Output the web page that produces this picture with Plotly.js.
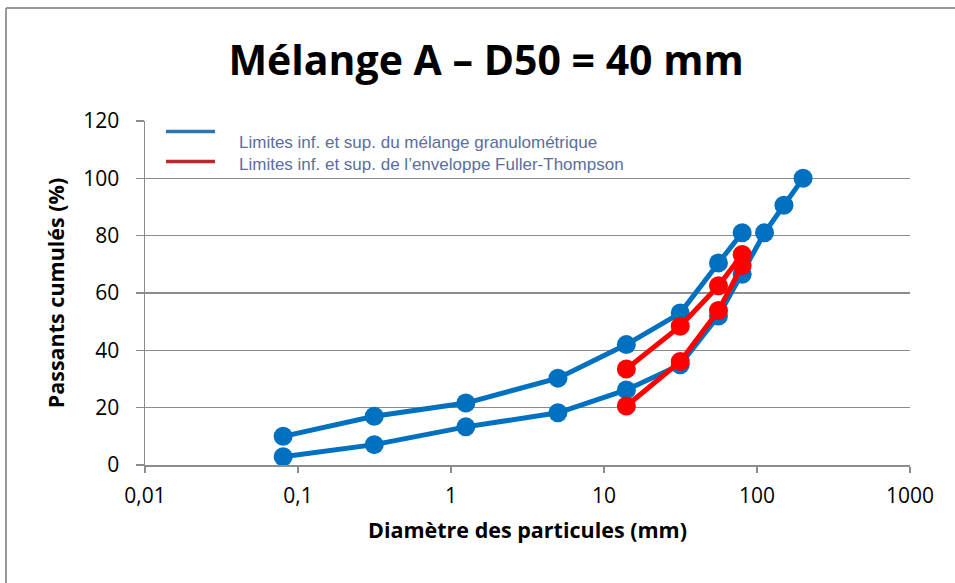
<!DOCTYPE html>
<html>
<head>
<meta charset="utf-8">
<script src="https://cdn.plot.ly/plotly-3.0.1.min.js"></script>
<style>html,body{margin:0;padding:0;background:#fff;}#chart{width:955px;height:583px;}</style>
</head>
<body>
<div id="chart"></div>
<script>
// Sieve sizes (mm)
const sizesBlueUpper = [0.08, 0.315, 1.25, 5, 14, 31.5, 56, 80];
const blueUpper = [10, 17, 21.6, 30.3, 42, 53, 70.5, 81];
const sizesBlueLower = [0.08, 0.315, 1.25, 5, 14, 31.5, 56, 80, 112, 150, 200];
const blueLower = [2.9, 7.1, 13.3, 18.2, 26.2, 35, 52, 66.5, 81, 90.6, 100];
const sizesRed = [14, 31.5, 56, 80];
const redUpper = [33.5, 48.4, 62.5, 73.4];
const redLower = [20.6, 36.1, 53.9, 69.6];

const xTickVals = [0.01, 0.1, 1, 10, 100, 1000];
const xTickText = ['0,01', '0,1', '1', '10', '100', '1000'];
const legendLabels = ['Limites inf. et sup. du mélange granulométrique',
                      'Limites inf. et sup. de l\u2019enveloppe Fuller-Thompson'];

const BLUE = '#0070C0', RED = '#FF0000';
const FONT = 'Open Sans, sans-serif';
function tr(x, y, c) {
  return {x: x, y: y, type: 'scatter', mode: 'lines+markers', showlegend: false,
    line: {color: c, width: 5}, marker: {color: c, size: 19}, hoverinfo: 'x+y'};
}
const data = [
  tr(sizesBlueUpper, blueUpper, BLUE),
  tr(sizesBlueLower, blueLower, BLUE),
  tr(sizesRed, redUpper, RED),
  tr(sizesRed, redLower, RED)
];

const L = 145, R = 910, T = 121, B = 465, W = 955, H = 583;
const px = v => (v - L) / (R - L);
const py = v => (B - v) / (B - T);

const layout = {
  width: W, height: H,
  margin: {l: L, r: W - R, t: T, b: H - B},
  paper_bgcolor: '#fff', plot_bgcolor: '#fff',
  font: {family: FONT, color: '#000'},
  title: {text: '<b>Mélange A – D50 = 40 mm</b>', font: {size: 41, family: FONT, color: '#000'},
          x: 0.509, xanchor: 'center', y: 1 - 61 / H, yanchor: 'middle'},
  xaxis: {type: 'log', range: [-2, 3], tickvals: xTickVals, ticktext: xTickText,
          showgrid: false, zeroline: false, showline: true, linecolor: '#8c8c8c', linewidth: 1.5,
          ticks: 'outside', ticklen: 6, tickcolor: '#8c8c8c', tickwidth: 1.5, ticklabelstandoff: 5,
          tickfont: {size: 21, family: FONT},
          title: {text: '<b>Diamètre des particules (mm)</b>', font: {size: 21.5, family: FONT}, standoff: 15}},
  yaxis: {range: [0, 120], dtick: 20, showgrid: true, gridcolor: '#8c8c8c', gridwidth: 1.5,
          zeroline: false, showline: true, linecolor: '#8c8c8c', linewidth: 1.5,
          ticks: 'outside', ticklen: 8, tickcolor: '#8c8c8c', tickwidth: 1.5, ticklabelstandoff: 12,
          tickfont: {size: 21, family: FONT},
          title: {text: '<b>Passants cumulés (%)</b>', font: {size: 21.5, family: FONT}, standoff: 12}},
  shapes: [
    {type: 'line', xref: 'paper', yref: 'paper', x0: px(166), x1: px(215), y0: py(131.5), y1: py(131.5), line: {color: '#2E75B6', width: 3.5}},
    {type: 'line', xref: 'paper', yref: 'paper', x0: px(166), x1: px(215), y0: py(161.5), y1: py(161.5), line: {color: '#C0272D', width: 3.5}},
    {type: 'line', xref: 'paper', yref: 'paper', x0: px(6), x1: px(6), y0: py(8), y1: py(H + 5), line: {color: '#999', width: 2}},
    {type: 'line', xref: 'paper', yref: 'paper', x0: px(6), x1: px(W + 5), y0: py(8), y1: py(8), line: {color: '#999', width: 2}}
  ],
  annotations: [
    {xref: 'paper', yref: 'paper', x: px(237), y: py(142), xanchor: 'left', yanchor: 'middle', showarrow: false,
     text: legendLabels[0], font: {family: 'Liberation Sans, Arial, sans-serif', size: 17, color: '#5B6E9E'}},
    {xref: 'paper', yref: 'paper', x: px(237), y: py(164), xanchor: 'left', yanchor: 'middle', showarrow: false,
     text: legendLabels[1], font: {family: 'Liberation Sans, Arial, sans-serif', size: 17, color: '#5B6E9E'}}
  ]
};
Plotly.newPlot('chart', data, layout, {displayModeBar: false, staticPlot: true});
</script>
</body>
</html>
